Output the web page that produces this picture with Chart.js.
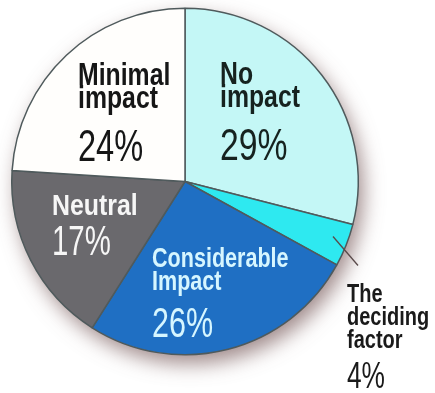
<!DOCTYPE html>
<html>
<head>
<meta charset="utf-8">
<script src="https://cdn.jsdelivr.net/npm/chart.js@4"></script>
<style>
  html, body { margin: 0; padding: 0; background: #ffffff; }
  #wrap { width: 435px; height: 393px; }
</style>
</head>
<body>
<div id="wrap"><canvas id="c" width="435" height="393"></canvas></div>
<script>
// Survey answers, clockwise from 12 o'clock
const categories = ['No impact', 'The deciding factor', 'Considerable impact', 'Neutral', 'Minimal impact'];
const labelLines = [['No', 'impact'], ['The', 'deciding', 'factor'], ['Considerable', 'Impact'], ['Neutral'], ['Minimal', 'impact']];
const shares = [29, 4, 26, 17, 24];

const sliceColors = ['#c4f7f6', '#2ee9f0', '#1f6fc3', '#6a696d', '#fffefc'];
const textColors = ['#16221f', '#1a1a1a', '#d6f6ff', '#f6f6f6', '#161616'];

const FONT = '"Liberation Sans", Arial, sans-serif';

// Label block layout: left edge and baselines as offsets from the pie centre;
// sx / psx squeeze the glyphs horizontally for a condensed look
const labelLayout = [
  { dx: 35,   base: [-98, -75], pctBase: -22, size: 31, sx: 0.8, pct: 45, psx: 0.75 },
  { dx: 162,  base: [120, 143, 166], pctBase: 206, size: 25, sx: 0.8, pct: 36, psx: 0.73 },
  { dx: -33,  base: [85, 108], pctBase: 155, size: 28, sx: 0.77, pct: 43, psx: 0.71 },
  { dx: -133, base: [33], pctBase: 73, size: 30, sx: 0.83, pct: 42, psx: 0.7 },
  { dx: -107, base: [-97, -74], pctBase: -21, size: 31, sx: 0.8, pct: 44, psx: 0.74 }
];

function squeezedText(ctx, text, x, y, sx) {
  ctx.save();
  ctx.translate(x, y);
  ctx.scale(sx, 1);
  ctx.fillText(text, 0, 0);
  ctx.restore();
}

const pieExtras = {
  id: 'pieExtras',
  beforeDatasetsDraw(chart) {
    // soft drop shadow under the whole pie
    const arc = chart.getDatasetMeta(0).data[0];
    const ctx = chart.ctx;
    ctx.save();
    ctx.shadowColor = 'rgba(120,90,90,0.7)';
    ctx.shadowBlur = 20;
    ctx.shadowOffsetX = 5;
    ctx.shadowOffsetY = 9;
    ctx.beginPath();
    ctx.arc(arc.x, arc.y, arc.outerRadius, 0, Math.PI * 2);
    ctx.fillStyle = '#ffffff';
    ctx.fill();
    ctx.restore();
  },
  afterDatasetsDraw(chart) {
    const meta = chart.getDatasetMeta(0);
    const cx = meta.data[0].x, cy = meta.data[0].y;
    const ctx = chart.ctx;
    ctx.save();
    // leader line for the small slice
    ctx.strokeStyle = '#5a4a4a';
    ctx.lineWidth = 1.3;
    ctx.beginPath();
    ctx.moveTo(cx + 148, cy + 55);
    ctx.lineTo(cx + 173, cy + 84);
    ctx.stroke();

    ctx.textAlign = 'left';
    ctx.textBaseline = 'alphabetic';
    labelLines.forEach((lines, i) => {
      const L = labelLayout[i];
      ctx.fillStyle = textColors[i];
      ctx.font = 'bold ' + L.size + 'px ' + FONT;
      lines.forEach((t, k) => squeezedText(ctx, t, cx + L.dx, cy + L.base[k], L.sx));
      ctx.font = L.pct + 'px ' + FONT;
      squeezedText(ctx, shares[i] + '%', cx + L.dx, cy + L.pctBase, L.psx);
    });
    ctx.restore();
  }
};

new Chart(document.getElementById('c'), {
  type: 'pie',
  data: {
    labels: categories,
    datasets: [{
      data: shares,
      backgroundColor: sliceColors,
      borderColor: '#4f5a5c',
      borderWidth: 1.5
    }]
  },
  options: {
    responsive: false,
    animation: false,
    rotation: 0,
    layout: { padding: { left: 11, top: 7, right: 76, bottom: 37 } },
    plugins: {
      legend: { display: false },
      tooltip: { enabled: false }
    }
  },
  plugins: [pieExtras]
});
</script>
</body>
</html>
